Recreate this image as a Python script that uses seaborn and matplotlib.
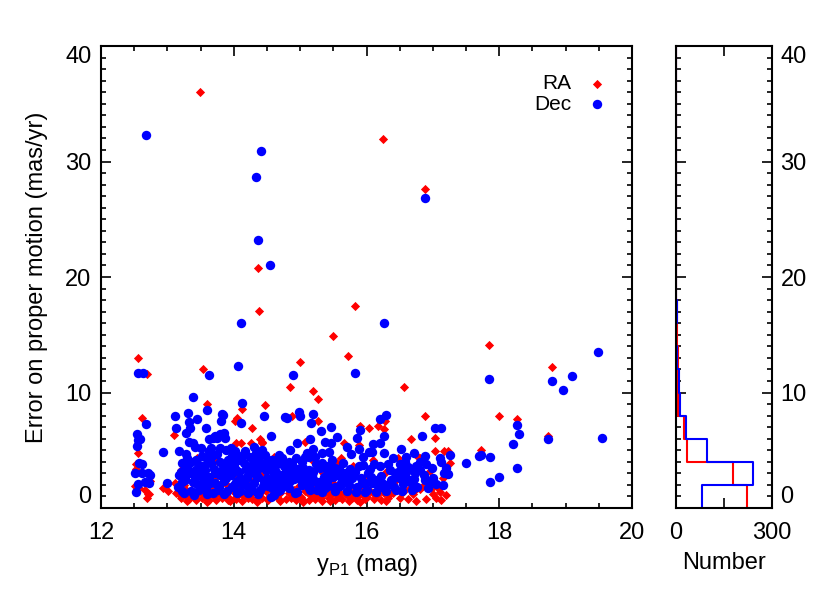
import numpy as np
import pandas as pd
import matplotlib
matplotlib.use("Agg")
import matplotlib.pyplot as plt
from matplotlib.ticker import MultipleLocator
import seaborn as sns

# --- values ---
# RA error (red diamonds): magnitude y_P1 and error (mas/yr)
RA_MAG = [
    13.49, 16.25, 16.88, 14.37, 14.38, 15.82, 15.50, 17.84, 12.55, 15.72, 15.00, 18.79, 12.69, 13.53,
    14.85, 16.57, 15.19, 15.27, 13.60, 14.12, 14.47, 14.05, 12.62, 14.88, 16.88, 18.00, 18.26, 18.74,
    17.72, 17.26, 17.22,
    12.55, 12.52, 12.52, 12.51, 12.57, 12.66, 12.72, 12.74, 12.69, 12.71, 12.52,
    13.10, 12.93, 13.01, 13.13, 13.11, 14.02, 14.28, 14.39, 14.42, 14.04, 14.11, 14.26, 14.42,
    13.17, 13.30, 13.45, 13.60, 13.70, 13.80, 13.93, 14.03, 14.15, 14.28, 14.38, 14.50, 14.60,
    15.27, 15.07, 15.66, 15.90, 16.03, 16.17, 16.28, 16.26, 15.88, 15.61, 16.67, 17.03, 17.03,
    17.17, 16.74, 16.80, 16.48,
    14.63, 14.86, 15.01, 15.16, 15.31, 15.46, 15.58, 15.68, 15.78, 15.88, 16.01, 16.16, 16.26,
    16.43, 16.56, 16.66, 16.81, 16.98, 17.08,
    13.25, 13.35, 13.40, 13.50, 13.55, 13.65, 13.70, 13.80, 13.85, 13.90, 14.00, 14.05, 14.10,
    14.20, 14.25, 14.30, 14.40, 14.45, 14.55, 14.65, 14.70, 14.80, 14.90, 15.00, 15.10, 15.15,
    15.25, 15.35, 15.40, 15.50, 15.55, 15.65, 15.75, 15.80, 15.90, 16.00, 16.10, 16.20, 16.30,
    16.35, 16.45, 16.55, 16.60, 16.70, 16.85, 16.95, 17.10, 17.15, 13.20, 13.30, 13.60, 13.95,
    14.35, 14.70, 15.05, 15.45, 15.90, 16.30, 16.75, 17.05, 15.20, 15.55, 14.60, 13.45, 13.75,
    16.10,
    13.20, 13.28, 13.33, 13.38, 13.43, 13.48, 13.52, 13.57, 13.63, 13.67, 13.73, 13.77, 13.83,
    13.88, 13.91, 13.98, 14.02, 14.08, 14.13, 14.18, 14.22, 14.27, 14.33, 14.42, 14.48, 14.52,
    14.58, 14.67, 14.73, 14.78, 14.83, 14.93, 14.98, 15.03, 15.08, 15.13, 15.18, 15.22, 15.28,
    15.33, 15.38, 15.43, 15.48, 15.53, 15.60, 15.63, 15.70, 15.73, 15.82, 15.85, 15.93, 15.98,
    16.05, 16.12, 16.18, 16.22, 16.33, 16.40, 16.50, 16.63, 16.72, 16.90, 17.00, 17.12, 17.20,
]
RA_ERR = [
    36.04, 31.98, 27.63, 20.74, 17.03, 17.46, 14.87, 14.15, 13.00, 13.14, 12.65, 12.19, 11.64, 12.00,
    10.52, 10.46, 10.10, 9.42, 9.00, 8.56, 8.88, 7.80, 7.80, 7.95, 8.00, 7.93, 7.67, 6.20,
    5.00, 3.86, 4.93,
    4.73, 3.80, 3.40, 1.90, 1.75, 1.55, 1.18, 2.30, 0.84, 1.21, 3.00,
    6.30, 1.75, 1.50, 1.27, 2.13, 7.55, 6.89, 5.94, 5.73, 5.59, 5.64, 5.59, 5.64,
    1.20, 1.00, 1.20, 0.80, 1.00, 1.10, 0.85, 0.75, 1.00, 0.75, 1.05, 0.80, 1.00,
    7.55, 5.73, 5.59, 7.09, 6.94, 7.11, 7.52, 6.80, 5.45, 4.30, 5.94, 6.08, 4.95,
    4.95, 4.60, 4.30, 4.30,
    1.27, 0.84, 0.98, 1.12, 0.84, 1.12, 0.98, 1.27, 0.84, 1.12, 0.98, 1.12, 1.27,
    1.56, 1.56, 1.70, 1.61, 1.70, 1.70,
    2.00, 1.60, 2.80, 1.40, 3.20, 1.80, 2.50, 1.50, 3.30, 2.00, 1.40, 2.70, 1.80,
    3.50, 1.50, 2.40, 1.30, 3.00, 1.70, 2.20, 1.30, 2.60, 1.60, 3.10, 1.40, 2.40,
    1.20, 3.00, 1.50, 2.20, 1.20, 2.80, 1.50, 3.60, 1.80, 2.90, 1.30, 2.30, 3.10,
    1.20, 2.40, 1.40, 3.00, 1.20, 1.90, 3.20, 1.40, 2.60, 3.30, 0.60, 0.50, 0.60,
    0.50, 0.60, 0.50, 0.60, 0.50, 0.60, 0.60, 0.90, 4.10, 3.90, 4.40, 4.30, 4.10,
    4.20,
    0.90, 1.60, 0.80, 1.30, 0.70, 1.90, 0.90, 1.40, 0.70, 1.20, 0.70, 2.00, 0.90,
    1.30, 0.70, 1.80, 0.90, 1.20, 0.60, 2.20, 0.90, 1.30, 0.80, 0.90, 1.50, 0.70,
    1.10, 0.90, 1.80, 0.80, 1.30, 0.70, 1.90, 0.80, 1.50, 0.70, 1.80, 0.80, 1.50,
    0.60, 1.30, 0.90, 1.60, 0.70, 1.30, 0.80, 1.10, 0.60, 1.30, 0.70, 1.20, 0.80,
    1.50, 0.80, 1.60, 0.70, 0.90, 1.30, 0.90, 0.80, 1.50, 0.80, 1.20, 0.70, 1.10,
]

# Dec error (blue circles)
DEC_MAG = [
    12.68, 14.41, 14.34, 14.37, 14.54, 16.88, 14.11, 16.27,
    12.56, 12.63, 13.63, 14.06, 14.89, 15.82, 17.84, 19.48, 18.79, 19.10, 18.96,
    18.26, 18.30, 18.20, 18.74, 19.55, 17.69, 17.73, 17.86, 18.27, 18.00, 17.86, 17.50, 17.26,
    17.22, 17.12, 17.12,
    13.39, 13.31, 13.12, 13.60, 14.12, 13.84, 14.46, 14.80, 14.98, 15.00, 15.20, 16.21, 16.29,
    12.68, 12.54, 12.56, 12.54, 12.59, 12.57, 12.61, 12.51, 12.61, 12.71, 12.74, 12.55, 12.66,
    12.72, 12.52,
    12.93, 13.00, 13.13, 13.17, 13.28, 13.34, 13.45, 13.58, 13.63, 13.68, 13.74, 13.81, 13.80,
    13.87, 13.32, 13.38, 13.28, 13.22, 13.18, 13.16, 13.33, 13.71, 13.86, 13.82, 14.11, 14.56,
    13.41, 13.66, 13.79, 13.88, 13.96, 14.03, 14.14, 14.31, 14.33, 14.43, 14.58, 14.63,
    13.28, 13.21, 13.26, 13.22, 13.43, 13.48, 13.56, 13.63, 13.71, 13.78, 13.33, 13.38, 13.48,
    13.58, 13.88, 13.96, 14.03, 14.08, 14.21, 14.28, 14.36, 14.48, 14.56, 14.63, 14.58, 14.56,
    14.13, 13.98,
    14.77, 15.16, 15.31, 15.46, 14.96, 15.15, 15.38, 15.46, 15.56, 15.43, 15.33, 15.90, 15.86,
    16.26, 16.21, 16.26, 15.88, 15.76, 16.03, 16.08, 16.52, 16.84, 17.03, 17.17, 16.98, 16.72,
    16.88,
    16.58, 16.63, 16.68, 16.73, 16.66, 16.58, 16.51, 16.43, 16.38, 16.31, 16.23, 16.13, 16.06,
    15.98, 15.91, 15.83, 15.78, 15.71, 15.63, 15.56, 15.53, 15.48, 15.41, 15.36, 15.28, 15.18,
    15.11, 15.03, 15.01, 14.93, 14.86, 14.81, 14.73, 14.66, 14.61, 14.56, 14.58, 14.66, 14.73,
    14.83, 14.93, 15.03, 15.13, 15.23, 15.33, 15.03, 15.13, 15.18, 15.53, 15.38, 15.13, 14.83,
    14.61,
    16.81, 16.86, 16.88, 16.76, 16.93,
    13.25, 13.35, 13.42, 13.50, 13.52, 13.60, 13.65, 13.70, 13.75, 13.80, 13.85, 13.90, 13.92,
    14.00, 14.05, 14.10, 14.15, 14.20, 14.25, 14.30, 14.35, 14.40, 14.45, 14.50, 14.52, 14.60,
    13.30, 13.45, 13.55, 13.68, 13.75, 13.95, 14.18, 14.42, 13.40, 13.62, 14.02, 14.22, 14.38,
    13.50,
    14.70, 14.75, 14.90, 14.95, 15.05, 15.10, 15.20, 15.25, 15.30, 15.40, 15.45, 15.50, 15.60,
    15.65, 15.70, 15.75, 15.85, 15.95, 16.00, 16.05, 16.15, 16.20, 16.30, 16.35, 16.45, 16.50,
    16.55, 16.60, 16.70, 16.75, 16.95, 17.05, 17.10, 15.95, 16.40, 15.20, 14.85, 16.10, 15.70,
    13.22, 13.27, 13.30, 13.36, 13.40, 13.44, 13.47, 13.53, 13.57, 13.60, 13.64, 13.67, 13.72,
    13.76, 13.79, 13.83, 13.86, 13.89, 13.93, 13.97, 14.01, 14.04, 14.07, 14.10, 14.14, 14.17,
    14.20, 14.24, 14.27, 14.30, 14.33, 14.37, 14.40, 14.44, 14.47, 14.50, 14.54, 14.57, 14.62,
    14.66, 14.68, 14.72, 14.76, 14.79, 14.84, 14.88, 14.92, 14.97, 15.02, 15.07, 15.10, 15.15,
    15.20, 15.24, 15.29, 15.33, 15.37, 15.42, 15.47, 15.52, 15.58, 15.62, 15.68, 15.73, 15.80,
    15.84, 15.88, 15.93, 15.97, 16.02, 16.08, 16.12, 16.17, 16.22, 16.27, 16.32, 16.37, 16.42,
    16.47, 16.53, 16.57, 16.62, 16.68, 16.72, 16.80, 16.90, 17.00, 17.15, 17.20,
]
DEC_ERR = [
    32.30, 30.94, 28.70, 23.20, 21.00, 26.82, 16.05, 16.02,
    11.73, 11.73, 11.53, 12.27, 11.50, 11.70, 11.15, 13.54, 11.00, 11.47, 10.26,
    7.15, 6.43, 5.50, 5.94, 6.08, 4.47, 4.58, 4.44, 3.46, 2.71, 2.25, 3.92, 4.55,
    2.97, 6.90, 3.98,
    9.60, 8.27, 8.00, 8.47, 9.10, 8.07, 8.00, 7.80, 8.35, 8.00, 8.10, 7.70, 8.07,
    7.30, 6.37, 5.88, 5.36, 5.96, 3.92, 3.80, 3.00, 3.05, 3.00, 2.85, 2.07, 2.27,
    2.19, 1.41,
    4.87, 2.13, 6.97, 4.93, 6.51, 6.89, 7.69, 6.94, 5.96, 6.10, 6.10, 7.52, 6.37,
    6.10, 5.73, 5.64, 4.72, 3.86, 2.85, 1.84, 7.46, 6.22, 6.50, 8.12, 7.40, 6.25,
    5.30, 5.21, 5.16, 5.01, 5.16, 4.58, 4.58, 5.30, 4.73, 5.01, 4.15, 4.00,
    3.57, 3.14, 2.70, 2.27, 4.15, 3.72, 3.28, 2.70, 2.13, 1.84, 3.00, 2.27, 1.99,
    1.70, 3.57, 2.85, 2.27, 3.14, 2.85, 3.72, 2.70, 3.28, 2.42, 3.14, 1.70, 0.98,
    2.13, 1.79,
    7.84, 7.40, 6.65, 7.03, 5.59, 5.94, 5.73, 5.59, 6.16, 4.87, 4.73, 6.74, 6.08,
    6.22, 5.59, 4.78, 5.07, 4.67, 4.81, 4.87, 5.07, 6.25, 6.94, 3.00, 3.43, 4.73,
    4.50,
    4.00, 3.57, 3.28, 3.00, 2.42, 2.85, 2.56, 3.00, 2.42, 1.99, 2.13, 2.42, 2.71,
    2.13, 2.56, 3.14, 2.56, 2.42, 2.56, 2.85, 3.43, 4.15, 3.28, 2.71, 2.28, 2.28,
    2.13, 1.99, 2.71, 3.14, 3.43, 2.85, 2.42, 2.13, 2.71, 3.28, 4.15, 3.86, 4.29,
    4.00, 4.29, 4.00, 4.44, 4.44, 3.86, 3.14, 3.28, 2.85, 1.84, 1.70, 1.70, 1.70,
    1.12,
    4.00, 2.85, 2.42, 1.79, 1.70,
    1.30, 1.50, 2.60, 2.90, 4.50, 4.30, 3.90, 3.40, 4.70, 2.90, 2.30, 1.50, 4.20,
    3.60, 1.30, 2.60, 3.90, 1.90, 4.40, 2.20, 3.30, 1.60, 2.30, 4.10, 1.90, 2.70,
    4.30, 3.40, 2.30, 1.30, 3.00, 3.90, 3.40, 3.60, 1.10, 4.90, 4.90, 1.30, 4.40,
    5.20,
    1.60, 3.60, 2.50, 1.40, 3.50, 4.80, 3.10, 1.60, 3.50, 2.30, 3.70, 2.70, 1.90,
    3.90, 1.50, 3.40, 1.80, 3.70, 1.60, 3.40, 1.40, 3.60, 1.50, 3.30, 1.60, 3.80,
    2.10, 4.40, 1.90, 3.60, 2.30, 2.10, 4.30, 4.40, 4.30, 5.10, 5.00, 5.50, 5.30,
    1.50, 2.40, 3.50, 4.00, 3.20, 2.10, 1.60, 2.60, 3.70, 1.20, 2.20, 4.50, 3.00,
    1.60, 4.00, 3.30, 1.20, 2.60, 3.10, 4.50, 2.00, 3.30, 4.20, 1.50, 2.30, 4.90,
    2.60, 3.20, 1.60, 4.00, 2.90, 1.20, 3.90, 1.90, 4.60, 2.60, 3.50, 2.00, 3.60,
    1.50, 4.60, 2.90, 1.90, 3.20, 2.30, 3.80, 1.30, 3.40, 2.40, 4.40, 2.80, 1.60,
    2.50, 3.80, 2.00, 1.40, 3.60, 1.90, 2.90, 1.50, 3.40, 2.20, 3.00, 2.00, 2.90,
    1.40, 3.60, 2.20, 1.40, 3.00, 2.20, 3.80, 1.90, 2.80, 1.70, 3.80, 2.40, 1.80,
    3.10, 1.50, 3.40, 2.30, 1.60, 2.50, 3.30, 3.80, 2.60, 2.00, 3.50,
]

# histogram counts per 2 mas/yr bin (0-2, 2-4, ..., 38-40)
BIN_EDGES = list(range(0, 42, 2))
RA_COUNTS = [222, 178, 34, 25, 6, 4, 5, 2, 2, 0, 1, 0, 0, 1, 0, 1, 0, 0, 1, 0]
DEC_COUNTS = [81, 241, 97, 31, 12, 9, 2, 0, 2, 0, 1, 1, 0, 1, 1, 1, 1, 0, 0, 0]

Y_TICKS = [0, 10, 20, 30, 40]

sns.set_style("ticks")
plt.rcParams['font.family'] = ['Liberation Sans', 'DejaVu Sans']
plt.rcParams['axes.linewidth'] = 1.5
for key in ['text.color', 'axes.labelcolor', 'axes.edgecolor', 'xtick.color', 'ytick.color']:
    plt.rcParams[key] = 'black'

ra_df = pd.DataFrame({'mag': RA_MAG, 'err': RA_ERR})
dec_df = pd.DataFrame({'mag': DEC_MAG, 'err': DEC_ERR})

centers = [(a + b) / 2 for a, b in zip(BIN_EDGES[:-1], BIN_EDGES[1:])]
hist_df = pd.DataFrame({'center': centers, 'ra': RA_COUNTS, 'dec': DEC_COUNTS})

fig = plt.figure(figsize=(8.3, 6), dpi=100)
ax = fig.add_axes([0.1217, 0.1533, 0.6398, 0.77])
ax2 = fig.add_axes([0.8145, 0.1533, 0.1157, 0.77])

# scatter panel
sns.scatterplot(data=ra_df, x='mag', y='err', ax=ax, marker='D', color='red',
                s=22, linewidth=0, label='RA', zorder=2)
sns.scatterplot(data=dec_df, x='mag', y='err', ax=ax, marker='o', color='blue',
                s=46, linewidth=0, label='Dec', zorder=3)

ax.set_xlim(12, 20)
ax.set_ylim(0, 40)
ax.xaxis.set_major_locator(MultipleLocator(2))
ax.xaxis.set_minor_locator(MultipleLocator(0.5))
ax.set_yticks(Y_TICKS)
ax.yaxis.set_minor_locator(MultipleLocator(1))
ax.tick_params(which='both', direction='in', top=True, right=True, width=1.2, labelsize=17)
ax.tick_params(which='major', length=7)
ax.tick_params(which='minor', length=3.5)
ax.tick_params(axis='x', pad=10)
ax.tick_params(axis='y', pad=7)
ax.set_xlabel(r'y$_\mathregular{P1}$ (mag)', fontsize=17, labelpad=6)
ax.set_ylabel('Error on proper motion (mas/yr)', fontsize=17, labelpad=12)

# keep end labels inside the frame, like the original
yt = ax.yaxis.get_major_ticks()
yt[0].label1.set_va('bottom')
yt[-1].label1.set_va('top')

ax.legend(loc='upper right', frameon=False, markerfirst=False, fontsize=15,
          handletextpad=0.2, labelspacing=0.05, borderaxespad=0.3,
          bbox_to_anchor=(1.0, 0.97))

# histogram panel
sns.histplot(data=hist_df, y='center', weights='ra', bins=BIN_EDGES, element='step',
             fill=False, color='red', linewidth=1.5, ax=ax2)
sns.histplot(data=hist_df, y='center', weights='dec', bins=BIN_EDGES, element='step',
             fill=False, color='blue', linewidth=1.5, ax=ax2)

ax2.set_xlim(0, 300)
ax2.set_ylim(0, 40)
ax2.set_xticks([0, 150, 300])
ax2.set_xticklabels(['0', '', '300'])
ax2.set_yticks(Y_TICKS)
ax2.yaxis.set_minor_locator(MultipleLocator(1))
ax2.tick_params(which='both', direction='in', top=True, right=True, left=True,
                labelleft=False, labelright=True, width=1.2, labelsize=17)
ax2.tick_params(which='major', length=7)
ax2.tick_params(which='minor', length=3.5)
ax2.tick_params(axis='x', pad=10)
ax2.tick_params(axis='y', pad=6)
ax2.set_xlabel('Number', fontsize=17, labelpad=6)
ax2.set_ylabel('')

yt2 = ax2.yaxis.get_major_ticks()
yt2[0].label2.set_va('bottom')
yt2[-1].label2.set_va('top')

fig.savefig('out.png', dpi=100)
